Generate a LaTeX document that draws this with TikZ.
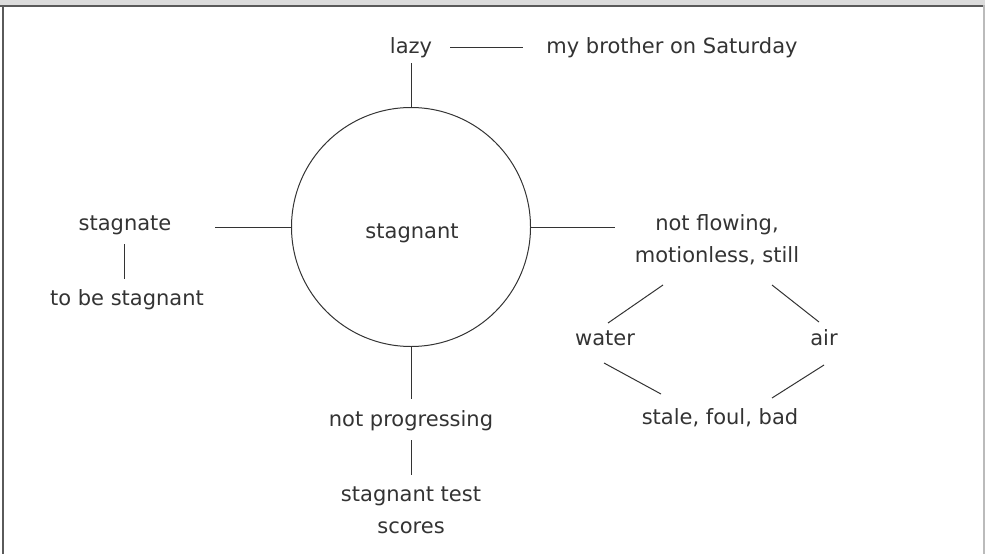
\documentclass[tikz,border=0pt]{standalone}
\usepackage{fontspec}
\setmainfont{DejaVu Sans}
\usetikzlibrary{calc}
\definecolor{ink}{HTML}{333333}
\definecolor{band}{HTML}{DCDCDC}
\definecolor{bandline}{HTML}{5A5A5A}
\definecolor{rborder}{HTML}{BBBBBB}
\tikzset{
  lbl/.style={anchor=base, inner sep=0pt, text=ink, align=center,
              font=\fontsize{21}{32}\selectfont},
  conn/.style={draw=ink, line width=1pt},
  hub/.style={circle, draw=ink, line width=1pt, minimum size=239pt, inner sep=0pt,
              text=ink, font=\fontsize{21}{32}\selectfont}
}
\begin{document}
\begin{tikzpicture}[x=1pt,y=-1pt]
\useasboundingbox (0,0) rectangle (985,554);
% frame
\fill[band] (0,0) rectangle (985,5);
\draw[bandline, line width=2pt] (0,5.5) -- (985,5.5);
\draw[bandline, line width=2pt] (2.5,5) -- (2.5,554);
\draw[rborder, line width=1.5pt] (984,5) -- (984,554);
% nodes
\node[hub] (c) at (411,227) {};
\node[lbl] (cl) at (412,238) {stagnant};
\node[lbl] (lazy) at (411,53) {lazy};
\node[lbl] (brother) at (672,53) {my brother on Saturday};
\node[lbl] (stagnate) at (125,230) {stagnate};
\node[lbl] (tobe) at (127,305) {to be stagnant};
\node[lbl] (flow) at (717,262) {not flowing,\\motionless, still};
\node[lbl] (water) at (605,345) {water};
\node[lbl] (air) at (824,345) {air};
\node[lbl] (stale) at (720,424) {stale, foul, bad};
\node[lbl] (prog) at (411,426) {not progressing};
\node[lbl] (scores) at (411,533) {stagnant test\\scores};
% connectors
\draw[conn] ($(lazy.base)+(39,-6)$) -- ($(brother.base)+(-149,-6)$);
\draw[conn] ($(lazy.base)+(0,10)$) -- (c.north);
\draw[conn] ($(stagnate.base)+(90,-3)$) -- (c.west);
\draw[conn] ($(stagnate.base)+(-1,14)$) -- ($(tobe.base)+(-3,-26)$);
\draw[conn] (c.east) -- ($(flow.base)+(-102,-35)$);
\draw[conn] ($(flow.base)+(-54,23)$) -- ($(water.base)+(3,-22)$);
\draw[conn] ($(flow.base)+(55,23)$) -- ($(air.base)+(-5,-23)$);
\draw[conn] ($(water.base)+(-1,18)$) -- ($(stale.base)+(-59,-30)$);
\draw[conn] ($(air.base)+(0,20)$) -- ($(stale.base)+(52,-26)$);
\draw[conn] (c.south) -- ($(prog.base)+(0,-27)$);
\draw[conn] ($(prog.base)+(0,14)$) -- ($(scores.base)+(0,-58)$);
\end{tikzpicture}
\end{document}
